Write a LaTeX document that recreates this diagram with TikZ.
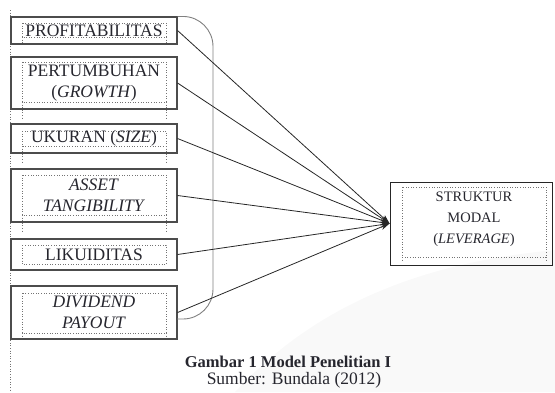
\documentclass[tikz,border=0pt]{standalone}
\usepackage{fontspec}
\setmainfont{Liberation Serif}
\usepackage{tikz}
\usetikzlibrary{arrows.meta}
\definecolor{box gray}{rgb}{0.30, 0.30, 0.30}
\definecolor{dot gray}{rgb}{0.45, 0.45, 0.45}
\definecolor{text gray}{rgb}{0.15, 0.15, 0.18}
\tikzset{
	variabel/.style = {draw = box gray, line width = 1.1pt, minimum width = 166pt,
		inner sep = 0pt, align = center, text = text gray,
		font = \fontsize{17.5}{21}\selectfont},
	titik/.style = {draw = dot gray, line width = 0.6pt, dotted},
	panah/.style = {draw = black!85, line width = 0.8pt, -{Stealth[length = 9pt, width = 6pt]}}
}
\begin{document}
\begin{tikzpicture}[x = 1pt, y = -1pt]
			\useasboundingbox (0, 0) rectangle (555, 392);
			% faint watermark
			\fill[gray!5] (235, 392) .. controls (320, 300) and (430, 262) .. (555, 250) -- (555, 392) -- cycle;
			% left margin
			\draw[titik] (10, 10) -- (10, 392);
			% inner dotted frames
			\foreach \atas/\bawah/\ujung in {23/37/43, 62/102/118, 131/146/163, 175/215/232, 245/264/264, 293/333/336}
			{
				\draw[titik] (22, \atas) rectangle (166, \bawah);
				\draw[titik] (22, \bawah) -- (22, \ujung) (166, \bawah) -- (166, \ujung);
			}
			\draw[titik] (402, 187) rectangle (546, 257);
			\draw[titik] (402, 257) -- (402, 261) (546, 257) -- (546, 261);
			% independent variables
			\node[variabel, minimum height = 27pt] (profit) at (94, 30.5) {PROFITABILITAS};
			\node[variabel, minimum height = 52pt] (growth) at (94, 83) {PERTUMBUHAN\\(\textit{GROWTH})};
			\node[variabel, minimum height = 29pt] (size) at (94, 138.5) {UKURAN (\textit{SIZE})};
			\node[variabel, minimum height = 53pt] (tang) at (94, 195.5) {\textit{ASSET}\\\textit{TANGIBILITY}};
			\node[variabel, minimum height = 31pt] (likuid) at (94, 254.5) {LIKUIDITAS};
			\node[variabel, minimum height = 53pt] (dividen) at (94, 312.5) {\textit{DIVIDEND}\\\textit{PAYOUT}};
			% dependent variable
			\node[draw = black!85, line width = 0.9pt, minimum width = 162pt, minimum height = 83pt] (leverage) at (471, 223.5) {};
			\node[align = center, text = text gray, font = \fontsize{14.5}{21}\selectfont] (levtext) at (474, 219) {STRUKTUR\\MODAL\\(\textit{LEVERAGE})};
			% bracket
			\draw[gray, line width = 0.9pt, rounded corners = 30pt] (profit.north east) -| (213, 319) -- (177, 319);
			% connectors
			\foreach \asal in {profit, growth, size, tang, likuid, dividen}
				\draw[panah] (\asal.east) -- (leverage.west);
			% caption
			\node[font = \fontsize{16.5}{20}\selectfont\bfseries, text = text gray] (judul) at (288, 362) {Gambar 1 Model Penelitian I};
			\node[font = \fontsize{17.5}{20}\selectfont, text = text gray] (sumber) at (294, 380) {Sumber: Bundala (2012)};
		\end{tikzpicture}
\end{document}
